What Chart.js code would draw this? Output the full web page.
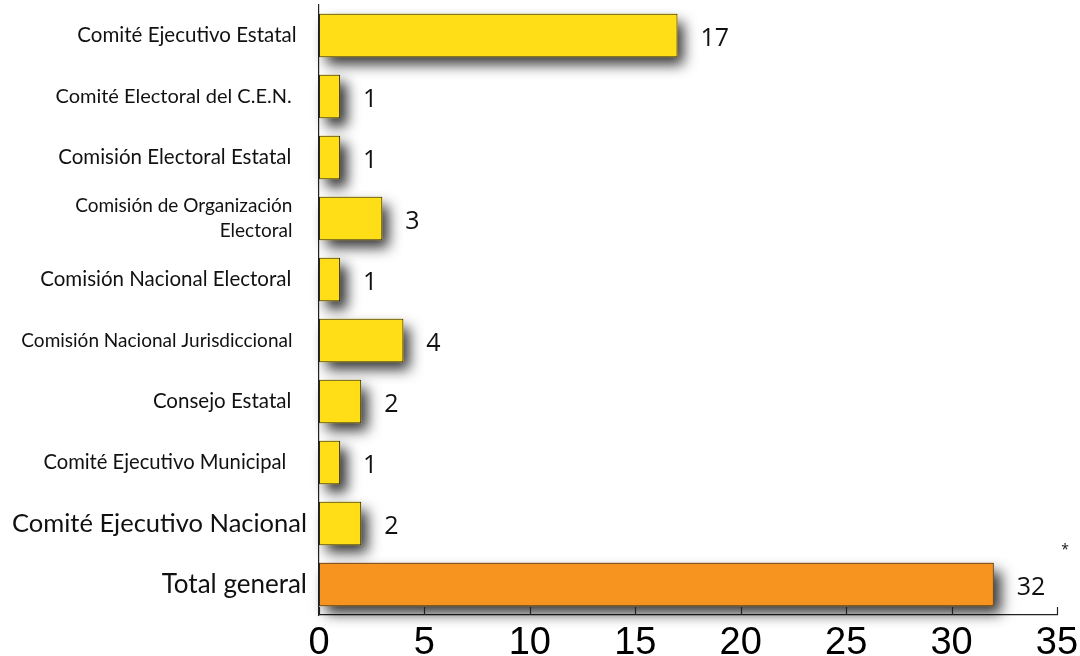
<!DOCTYPE html>
<html>
<head>
<meta charset="utf-8">
<script src="https://cdn.jsdelivr.net/npm/chart.js@4/dist/chart.umd.min.js"></script>
<style>
  html, body { margin: 0; padding: 0; background: #ffffff; }
  #wrap { position: relative; width: 1080px; height: 656px; }
</style>
</head>
<body>
<div id="wrap"><canvas id="chart"></canvas></div>
<script>
// Órganos que emitieron resoluciones y número de casos
const categories = [
  'Comité Ejecutivo Estatal',
  'Comité Electoral del C.E.N.',
  'Comisión Electoral Estatal',
  ['Comisión de Organización', 'Electoral'],
  'Comisión Nacional Electoral',
  'Comisión Nacional Jurisdiccional',
  'Consejo Estatal',
  'Comité Ejecutivo Municipal',
  'Comité Ejecutivo Nacional',
  'Total general'
];
const casos = [17, 1, 1, 3, 1, 4, 2, 1, 2, 32];
const xTicks = [0, 5, 10, 15, 20, 25, 30, 35];
const totalMark = '*';

const YELLOW = '#FFDD17';
const ORANGE = '#F7941F';
const barColors = casos.map((v, i) => i === casos.length - 1 ? ORANGE : YELLOW);

// label font size and trailing gap (in spaces) per category row
const labelSizes = [20.5, 20, 20.5, 19, 20.5, 19, 20.5, 20.2, 25.5, 26];
const labelGaps  = [2, 3, 3, 3, 3, 3, 3, 4, 0, 0];

// soft drop shadow painted under each bar
const barShadow = {
  id: 'barShadow',
  beforeDatasetsDraw(chart) {
    const ctx = chart.ctx;
    const meta = chart.getDatasetMeta(0);
    ctx.save();
    ctx.shadowColor = 'rgba(0,0,0,0.8)';
    ctx.shadowBlur = 13;
    ctx.shadowOffsetX = 7;
    ctx.shadowOffsetY = 8;
    meta.data.forEach((bar, i) => {
      const p = bar.getProps(['x', 'y', 'base', 'height'], true);
      ctx.fillStyle = barColors[i];
      ctx.fillRect(p.base, p.y - p.height / 2, p.x - p.base, p.height);
    });
    ctx.restore();
  }
};

// value labels at the end of each bar
const valueLabels = {
  id: 'valueLabels',
  afterDatasetsDraw(chart) {
    const ctx = chart.ctx;
    const meta = chart.getDatasetMeta(0);
    ctx.save();
    ctx.fillStyle = '#111';
    ctx.textBaseline = 'middle';
    ctx.textAlign = 'left';
    meta.data.forEach((bar, i) => {
      const p = bar.getProps(['x', 'y'], true);
      ctx.font = '25px "Open Sans"';
      const txt = String(casos[i]);
      const lx = p.x + 23;
      const ly = p.y + 3;
      ctx.fillText(txt, lx, ly);
      if (i === casos.length - 1) {
        const w = ctx.measureText(txt).width;
        ctx.font = '14px "Open Sans"';
        ctx.fillText(totalMark, lx + w + 16, ly - 37);
      }
    });
    ctx.restore();
  }
};

// short inward tick marks along the value axis
const innerTicks = {
  id: 'innerTicks',
  afterDraw(chart) {
    const ctx = chart.ctx;
    const xs = chart.scales.x;
    const y0 = chart.chartArea.bottom;
    ctx.save();
    ctx.strokeStyle = '#222';
    ctx.lineWidth = 1.2;
    xTicks.forEach(v => {
      const px = Math.round(xs.getPixelForValue(v)) + 0.5;
      ctx.beginPath();
      ctx.moveTo(px, y0);
      ctx.lineTo(px, y0 - 8);
      ctx.stroke();
    });
    ctx.restore();
  }
};

new Chart(document.getElementById('chart'), {
  type: 'bar',
  data: {
    labels: categories,
    datasets: [{
      data: casos,
      backgroundColor: barColors,
      borderColor: '#2a2a2a',
      borderWidth: 1,
      borderSkipped: false,
      categoryPercentage: 1,
      barPercentage: 0.71
    }]
  },
  options: {
    indexAxis: 'y',
    responsive: true,
    maintainAspectRatio: false,
    animation: false,
    layout: { padding: { top: 5, right: 23, left: 0, bottom: 0 } },
    plugins: { legend: { display: false }, tooltip: { enabled: false } },
    scales: {
      x: {
        min: 0,
        max: 35,
        z: 1,
        afterBuildTicks(scale) { scale.ticks = xTicks.map(v => ({ value: v })); },
        afterFit(scale) {
          scale.height = 41;
          scale.paddingLeft = 0;
          scale.paddingRight = 0;
        },
        grid: { display: false, drawTicks: false },
        border: { display: true, color: '#222', width: 1.2 },
        ticks: {
          padding: 6,
          color: '#000',
          maxRotation: 0,
          autoSkip: false,
          font: { family: '"Liberation Sans Narrow", "Liberation Sans", sans-serif', size: 38 }
        }
      },
      y: {
        z: 1,
        afterFit(scale) {
          scale.width = 319;
          scale.paddingTop = 0;
          scale.paddingBottom = 0;
        },
        grid: { display: false, drawTicks: false },
        border: { display: true, color: '#222', width: 1.2 },
        ticks: {
          padding: 12,
          color: '#111',
          autoSkip: false,
          callback(value, index) {
            const gap = ' '.repeat(labelGaps[index] || 0);
            const lab = categories[index];
            return Array.isArray(lab) ? lab.map(s => s + gap) : lab + gap;
          },
          font: (ctx) => ({ family: 'Lato, "Open Sans", sans-serif', size: labelSizes[ctx.index] || 20, lineHeight: 1.3 })
        }
      }
    }
  },
  plugins: [barShadow, valueLabels, innerTicks]
});
</script>
</body>
</html>
